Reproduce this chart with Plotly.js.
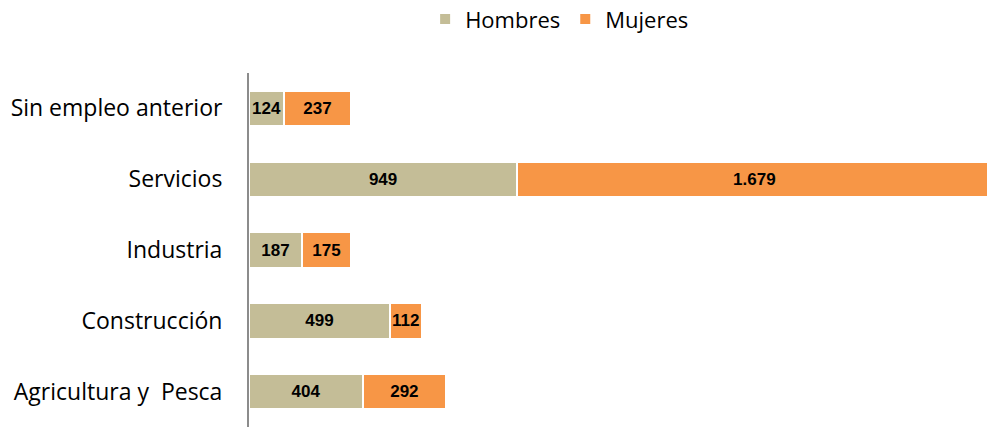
<!DOCTYPE html>
<html><head><meta charset="utf-8">
<script src="https://cdn.plot.ly/plotly-3.0.1.min.js"></script>
<style>html,body{margin:0;padding:0;background:#fff;}</style>
</head><body>
<div id="chart" style="width:987px;height:427px;"></div>
<script>
const categories = ["Agricultura y  Pesca", "Construcción", "Industria", "Servicios", "Sin empleo anterior"];
const hombres = [404, 499, 187, 949, 124];
const mujeres = [292, 112, 175, 1679, 237];

const common = {
  type: 'bar', orientation: 'h', y: categories,
  textposition: 'inside', insidetextanchor: 'middle', textangle: 0,
  texttemplate: '%{x:,.0f}',
  textfont: {family: 'Liberation Sans, Arial, sans-serif', size: 17, color: '#000', weight: 'bold'},
  constraintext: 'none', hoverinfo: 'skip'
};
const data = [
  Object.assign({}, common, {name: 'Hombres', x: hombres,
    marker: {color: '#c4bd97', line: {color: '#ffffff', width: 2}}}),
  Object.assign({}, common, {name: 'Mujeres', x: mujeres,
    marker: {color: '#f79646', line: {color: '#ffffff', width: 2}}})
];
const layout = {
  width: 987, height: 427,
  margin: {l: 249, r: 0, t: 73, b: 0},
  barmode: 'stack', bargap: 0.5,
  separators: ',.',
  paper_bgcolor: '#fff', plot_bgcolor: '#fff',
  font: {family: 'Open Sans, sans-serif', color: '#000'},
  showlegend: true,
  legend: {orientation: 'h', xref: 'container', yref: 'container', x: 0.567, xanchor: 'center',
    y: 0.955, yanchor: 'middle', font: {size: 22, family: 'Open Sans, sans-serif'}, traceorder: 'normal', itemwidth: 30},
  xaxis: {range: [0, 2612], showgrid: false, zeroline: false, showline: false, showticklabels: false, ticks: ''},
  yaxis: {type: 'category', showgrid: false, zeroline: false, showline: true, linecolor: '#8c8c8c', linewidth: 2,
    ticks: '', ticklabelstandoff: 20, tickfont: {size: 23, family: 'Open Sans, sans-serif', color: '#000'}}
};
Plotly.newPlot('chart', data, layout, {displayModeBar: false, staticPlot: true});
</script>
</body></html>
